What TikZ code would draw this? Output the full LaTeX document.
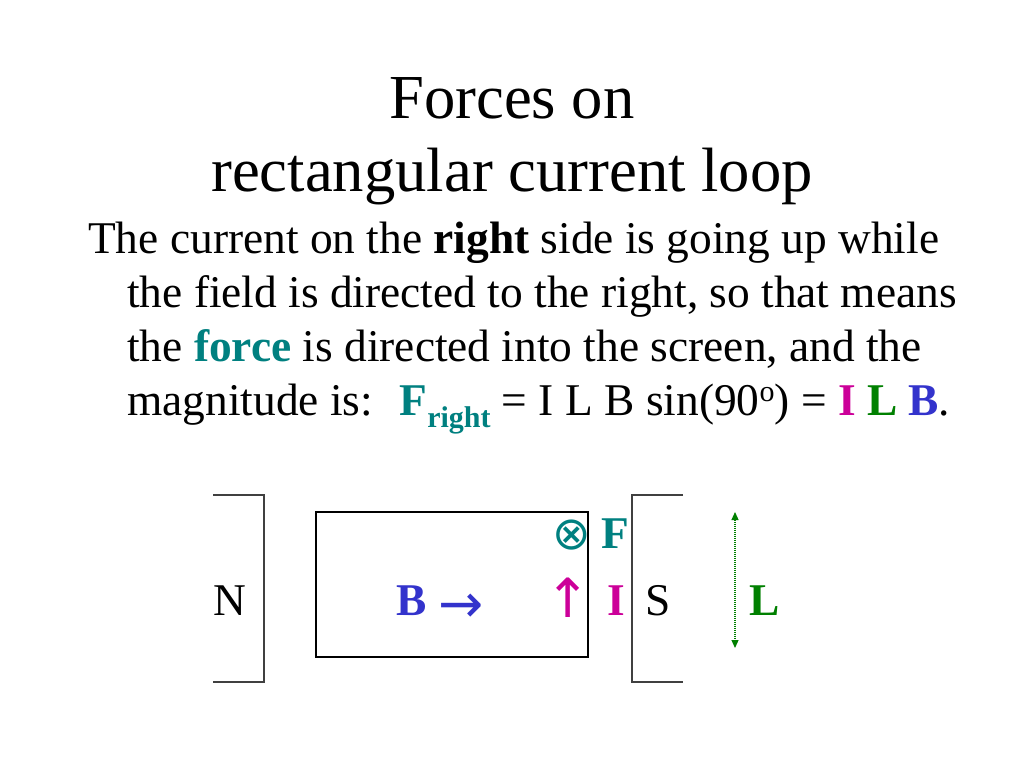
\documentclass[tikz,border=0pt]{standalone}
\usepackage{fontspec}
\setmainfont{Liberation Serif}
\newfontfamily\symfont{DejaVu Sans}
\usetikzlibrary{arrows.meta}
\definecolor{cTeal}{RGB}{0,128,128}
\definecolor{cMag}{RGB}{204,0,153}
\definecolor{cGreen}{RGB}{0,128,0}
\definecolor{cBlue}{RGB}{51,51,204}
\begin{document}
\begin{tikzpicture}[x=1pt,y=-1pt,
  title/.style={font=\fontsize{62.6}{73}\selectfont, inner sep=0pt, anchor=base},
  body/.style={font=\fontsize{45.4}{54}\selectfont, inner sep=0pt, anchor=base west},
  lbl/.style={font=\fontsize{45.4}{54}\selectfont, inner sep=0pt, anchor=base west},
  sym/.style={font=\symfont\fontsize{54}{54}\selectfont, inner sep=0pt, anchor=base west},
  bracket/.style={draw=black!75, line width=1.3pt},
  loopbox/.style={draw=black, line width=2pt},
  dimline/.style={draw=cGreen, dash pattern=on 1pt off 1pt, line width=1.2pt,
    {Triangle[width=7pt,length=8pt]}-{Triangle[width=7pt,length=8pt]}}]
\useasboundingbox (0,0) rectangle (1024,768);
\fill[white] (0,0) rectangle (1024,768);
% title
\node[title] (t1) at (512,118) {Forces on};
\node[title] (t2) at (512,191) {rectangular current loop};
% body
\node[body] (l1) at (88,253) {The current on the \textbf{right} side is going up while};
\node[body] (l2) at (127,307) {the field is directed to the right, so that means};
\node[body] (l3) at (127,361) {the \textcolor{cTeal}{\textbf{force}} is directed into the screen, and the};
\node[body] (l4) at (127,415) {magnitude is: \ \textcolor{cTeal}{\textbf{F}\raisebox{-12pt}{\fontsize{30}{30}\selectfont\bfseries right}} = I L B sin(90\raisebox{14pt}{\fontsize{30}{30}\selectfont o}) = \textcolor{cMag}{\textbf{I}} \textcolor{cGreen}{\textbf{L}} \textcolor{cBlue}{\textbf{B}}.};
% magnets
\draw[bracket] (213,495) -- (264,495) -- (264,682) -- (213,682);
\draw[bracket] (683,495) -- (632,495) -- (632,682) -- (683,682);
% current loop
\draw[loopbox] (316,512) rectangle (588,657);
% labels
\node[lbl] (N) at (213,615) {N};
\node[lbl, text=cBlue] (B) at (396,615) {\textbf{B}};
\node[sym, text=cBlue] (Barr) at (438,622) {→};
\node[sym, anchor=base, text=cMag] (up) at (568,617) {↑};
\node[lbl, text=cMag] (I) at (607,615) {\textbf{I}};
\node[lbl] (S) at (645,615) {S};
\node[inner sep=0pt, anchor=base, text=cTeal, font=\symfont\fontsize{46}{46}\selectfont] (X) at (572,549) {⊗};
\node[lbl, text=cTeal] (F) at (601,548) {\textbf{F}};
\node[lbl, text=cGreen] (L) at (749,615) {\textbf{L}};
\coordinate (Ltop) at (735,512);
\coordinate (Lbot) at (735,648);
\draw[dimline] (Ltop) -- (Lbot);
\end{tikzpicture}
\end{document}
